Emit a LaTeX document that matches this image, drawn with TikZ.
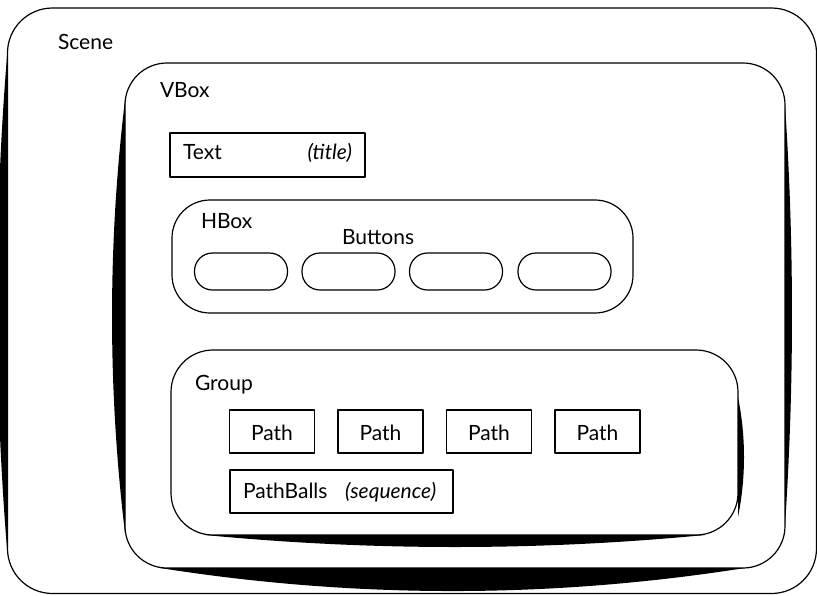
\documentclass[tikz,border=0pt]{standalone}
\usepackage{fontspec}
\setmainfont{Lato}
\begin{document}
\begin{tikzpicture}[x=1pt,y=-1pt,line join=round,
  frame/.style={draw=black,line width=1.2pt,inner sep=0pt,outer sep=0pt,fill=none},
  wedge/.style={fill=black,draw=none},
  lbl/.style={inner sep=0pt,outer sep=0pt,font=\fontsize{21}{25}\selectfont},
  btn/.style={frame,rounded corners=18pt,minimum width=93pt,minimum height=37pt},
  pathbox/.style={frame,minimum width=85pt,minimum height=43pt}]
\useasboundingbox (0,0) rectangle (817,595);
% boxes
\node[frame,rounded corners=45pt,minimum width=809pt,minimum height=585.5pt] (scene) at (412,300.75) {};
\node[frame,rounded corners=42pt,minimum width=660pt,minimum height=505pt] (vbox) at (455,315.5) {};
\node[frame,minimum width=195pt,minimum height=44pt] (textbox) at (267.5,155) {};
\node[frame,rounded corners=38pt,minimum width=461pt,minimum height=113pt] (hbox) at (402.5,256.5) {};
\node[frame,rounded corners=42pt,minimum width=567pt,minimum height=185pt] (group) at (454.5,442.5) {};
\node[btn] (b1) at (241,271.5) {};
\node[btn] (b2) at (348.5,271.5) {};
\node[btn] (b3) at (456,271.5) {};
\node[btn] (b4) at (564.5,271.5) {};
\node[pathbox] (p1) at (272,431.5) {};
\node[pathbox] (p2) at (380.5,431.5) {};
\node[pathbox] (p3) at (489,431.5) {};
\node[pathbox] (p4) at (597.5,431.5) {};
\node[frame,minimum width=223pt,minimum height=43pt] (pballs) at (341.5,491.5) {};
% tapered thick edges
\fill[wedge] (7.5,50) .. controls (-6.4,218) and (-6.4,387) .. (7.5,555) -- cycle;
\fill[wedge] (125,100) .. controls (107.7,244) and (107.7,389) .. (125,533) -- cycle;
\fill[wedge] (160,568) .. controls (355,598.7) and (550,598.7) .. (745,568) -- cycle;
\fill[wedge] (785,105) .. controls (794.3,245) and (794.3,385) .. (785,525) -- cycle;
\fill[wedge] (738,397) .. controls (746,437) and (746,477) .. (738,517) -- cycle;
\fill[wedge] (205,535) .. controls (372,551) and (538,551) .. (705,535) -- cycle;
% labels
\node[lbl,anchor=base west] (scenelbl) at (58,49) {Scene};
\node[lbl,anchor=base west] (vboxlbl) at (160,97) {VBox};
\node[lbl,anchor=base west] (textlbl) at (183,159) {Text};
\node[lbl,anchor=base east] (titlelbl) at (352,159) {\itshape (title)};
\node[lbl,anchor=base west] (hboxlbl) at (201,228) {HBox};
\node[lbl,anchor=base west] (btnlbl) at (342,244) {Buttons};
\node[lbl,anchor=base west] (grouplbl) at (195,390) {Group};
\node[lbl,anchor=base] (p1lbl) at (272,440) {Path};
\node[lbl,anchor=base] (p2lbl) at (380.5,440) {Path};
\node[lbl,anchor=base] (p3lbl) at (489,440) {Path};
\node[lbl,anchor=base] (p4lbl) at (597.5,440) {Path};
\node[lbl,anchor=base west] (pballslbl) at (243,498) {PathBalls};
\node[lbl,anchor=base west] (seqlbl) at (345,498) {\itshape (sequence)};
\end{tikzpicture}
\end{document}
